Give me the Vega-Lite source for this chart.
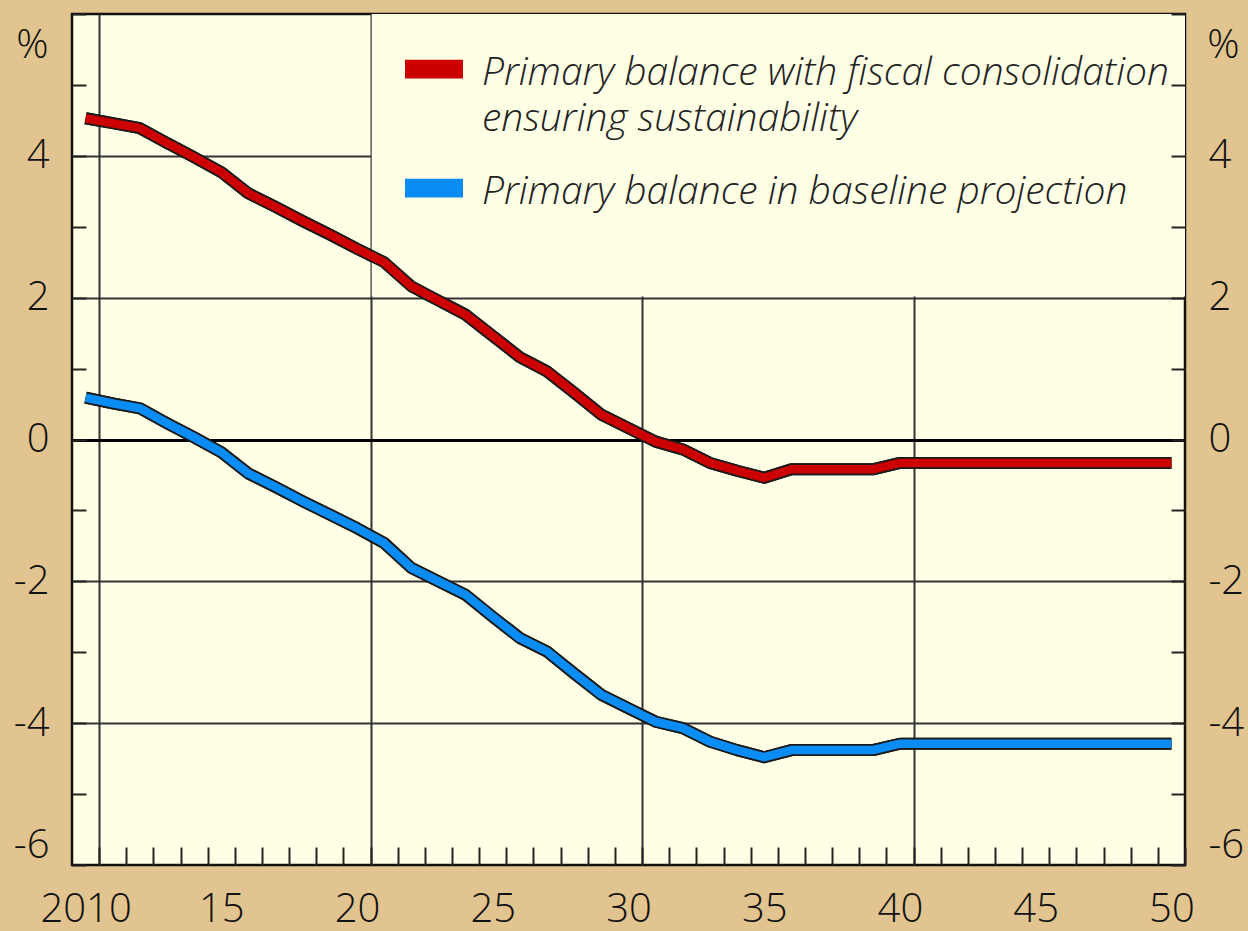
{
  "$schema": "https://vega.github.io/schema/vega-lite/v6.json",
  "width": 1113,
  "height": 851,
  "autosize": "none",
  "padding": {"left": 72, "top": 14, "right": 63, "bottom": 66},
  "background": "#E1C48F",
  "config": {
    "view": {"fill": "#FFFFE6", "stroke": "#111111", "strokeWidth": 2.5},
    "axis": {
      "labelFont": "Open Sans", "labelFontSize": 40, "labelFontWeight": 300, "labelColor": "#111111",
      "titleFont": "Open Sans", "titleFontSize": 40, "titleFontWeight": 300, "titleColor": "#111111",
      "domain": false, "tickColor": "#222222", "tickWidth": 2
    }
  },
  "data": {"values": [
    {"year": 2010, "value": 4.53, "series": "red"},
    {"year": 2011, "value": 4.46, "series": "red"},
    {"year": 2012, "value": 4.39, "series": "red"},
    {"year": 2013, "value": 4.18, "series": "red"},
    {"year": 2014, "value": 3.98, "series": "red"},
    {"year": 2015, "value": 3.77, "series": "red"},
    {"year": 2016, "value": 3.47, "series": "red"},
    {"year": 2017, "value": 3.28, "series": "red"},
    {"year": 2018, "value": 3.08, "series": "red"},
    {"year": 2019, "value": 2.89, "series": "red"},
    {"year": 2020, "value": 2.69, "series": "red"},
    {"year": 2021, "value": 2.50, "series": "red"},
    {"year": 2022, "value": 2.16, "series": "red"},
    {"year": 2023, "value": 1.96, "series": "red"},
    {"year": 2024, "value": 1.76, "series": "red"},
    {"year": 2025, "value": 1.46, "series": "red"},
    {"year": 2026, "value": 1.16, "series": "red"},
    {"year": 2027, "value": 0.96, "series": "red"},
    {"year": 2028, "value": 0.66, "series": "red"},
    {"year": 2029, "value": 0.35, "series": "red"},
    {"year": 2030, "value": 0.16, "series": "red"},
    {"year": 2031, "value": -0.03, "series": "red"},
    {"year": 2032, "value": -0.14, "series": "red"},
    {"year": 2033, "value": -0.33, "series": "red"},
    {"year": 2034, "value": -0.44, "series": "red"},
    {"year": 2035, "value": -0.54, "series": "red"},
    {"year": 2036, "value": -0.42, "series": "red"},
    {"year": 2037, "value": -0.42, "series": "red"},
    {"year": 2038, "value": -0.42, "series": "red"},
    {"year": 2039, "value": -0.42, "series": "red"},
    {"year": 2040, "value": -0.33, "series": "red"},
    {"year": 2041, "value": -0.33, "series": "red"},
    {"year": 2042, "value": -0.33, "series": "red"},
    {"year": 2043, "value": -0.33, "series": "red"},
    {"year": 2044, "value": -0.33, "series": "red"},
    {"year": 2045, "value": -0.33, "series": "red"},
    {"year": 2046, "value": -0.33, "series": "red"},
    {"year": 2047, "value": -0.33, "series": "red"},
    {"year": 2048, "value": -0.33, "series": "red"},
    {"year": 2049, "value": -0.33, "series": "red"},
    {"year": 2050, "value": -0.33, "series": "red"},
    {"year": 2010, "value": 0.59, "series": "blue"},
    {"year": 2011, "value": 0.51, "series": "blue"},
    {"year": 2012, "value": 0.44, "series": "blue"},
    {"year": 2013, "value": 0.23, "series": "blue"},
    {"year": 2014, "value": 0.03, "series": "blue"},
    {"year": 2015, "value": -0.18, "series": "blue"},
    {"year": 2016, "value": -0.48, "series": "blue"},
    {"year": 2017, "value": -0.67, "series": "blue"},
    {"year": 2018, "value": -0.87, "series": "blue"},
    {"year": 2019, "value": -1.06, "series": "blue"},
    {"year": 2020, "value": -1.25, "series": "blue"},
    {"year": 2021, "value": -1.46, "series": "blue"},
    {"year": 2022, "value": -1.81, "series": "blue"},
    {"year": 2023, "value": -2.00, "series": "blue"},
    {"year": 2024, "value": -2.19, "series": "blue"},
    {"year": 2025, "value": -2.50, "series": "blue"},
    {"year": 2026, "value": -2.80, "series": "blue"},
    {"year": 2027, "value": -2.99, "series": "blue"},
    {"year": 2028, "value": -3.30, "series": "blue"},
    {"year": 2029, "value": -3.60, "series": "blue"},
    {"year": 2030, "value": -3.79, "series": "blue"},
    {"year": 2031, "value": -3.98, "series": "blue"},
    {"year": 2032, "value": -4.07, "series": "blue"},
    {"year": 2033, "value": -4.26, "series": "blue"},
    {"year": 2034, "value": -4.38, "series": "blue"},
    {"year": 2035, "value": -4.48, "series": "blue"},
    {"year": 2036, "value": -4.38, "series": "blue"},
    {"year": 2037, "value": -4.38, "series": "blue"},
    {"year": 2038, "value": -4.38, "series": "blue"},
    {"year": 2039, "value": -4.38, "series": "blue"},
    {"year": 2040, "value": -4.29, "series": "blue"},
    {"year": 2041, "value": -4.29, "series": "blue"},
    {"year": 2042, "value": -4.29, "series": "blue"},
    {"year": 2043, "value": -4.29, "series": "blue"},
    {"year": 2044, "value": -4.29, "series": "blue"},
    {"year": 2045, "value": -4.29, "series": "blue"},
    {"year": 2046, "value": -4.29, "series": "blue"},
    {"year": 2047, "value": -4.29, "series": "blue"},
    {"year": 2048, "value": -4.29, "series": "blue"},
    {"year": 2049, "value": -4.29, "series": "blue"},
    {"year": 2050, "value": -4.29, "series": "blue"}
  ]},
  "resolve": {"axis": {"y": "independent"}},
  "layer": [
    {
      "mark": {"type": "line", "color": "#1A1A1A", "strokeWidth": 12, "strokeCap": "butt", "strokeJoin": "round"},
      "encoding": {
        "x": {
          "field": "year", "type": "quantitative",
          "scale": {"domain": [2009.5, 2050.5], "nice": false, "zero": false},
          "axis": {
            "title": null,
            "values": [2010.5, 2011.5, 2012.5, 2013.5, 2014.5, 2015.5, 2016.5, 2017.5, 2018.5, 2019.5, 2020.5, 2021.5, 2022.5, 2023.5, 2024.5, 2025.5, 2026.5, 2027.5, 2028.5, 2029.5, 2030.5, 2031.5, 2032.5, 2033.5, 2034.5, 2035.5, 2036.5, 2037.5, 2038.5, 2039.5, 2040.5, 2041.5, 2042.5, 2043.5, 2044.5, 2045.5, 2046.5, 2047.5, 2048.5, 2049.5, 2050.5],
            "tickCount": 200,
            "labelExpr": "(datum.value - 0.5) % 5 === 0 ? ((datum.value - 0.5) === 2010 ? '2010' : substring(toString(datum.value - 0.5), 2)) : ''",
            "labelOffset": -13.6,
            "labelFlush": false,
            "labelOverlap": false,
            "labelPadding": 42,
            "tickSize": -18,
            "grid": true,
            "gridColor": "#333333",
            "gridWidth": 2,
            "gridOpacity": {"expr": "(datum.value - 0.5) % 10 === 0 && datum.value < 2050 ? 1 : 0"}
          }
        },
        "y": {
          "field": "value", "type": "quantitative",
          "scale": {"domain": [-6, 6], "nice": false, "zero": false},
          "axis": {
            "orient": "left",
            "title": "%", "titleAngle": 0, "titleX": -40, "titleY": 31, "titleAlign": "center", "titleBaseline": "middle",
            "values": [-6, -5, -4, -3, -2, -1, 0, 1, 2, 3, 4, 5, 6],
            "tickCount": 100,
            "labelExpr": "datum.value % 2 === 0 && datum.value < 6 ? toString(datum.value) : ''",
            "labelOverlap": false,
            "labelFlush": true,
            "labelPadding": 37,
            "tickSize": -14,
            "grid": true,
            "gridColor": {"expr": "datum.value === 0 ? '#000000' : '#333333'"},
            "gridWidth": {"expr": "datum.value === 0 ? 3 : 2"},
            "gridOpacity": {"expr": "datum.value % 2 === 0 && abs(datum.value) < 6 ? 1 : 0"}
          }
        },
        "detail": {"field": "series"}
      }
    },
    {
      "data": {"values": [{}]},
      "mark": {"type": "rect", "fill": "#FFFFE6"},
      "encoding": {
        "x": {"datum": 2020.54, "type": "quantitative"},
        "x2": {"datum": 2050.5},
        "y": {"datum": 2.016, "type": "quantitative", "axis": null},
        "y2": {"datum": 6}
      }
    },
    {
      "mark": {"type": "line", "color": "#1A1A1A", "strokeWidth": 12, "strokeCap": "butt", "strokeJoin": "round"},
      "encoding": {
        "x": {"field": "year", "type": "quantitative"},
        "y": {"field": "value", "type": "quantitative", "axis": null},
        "detail": {"field": "series"}
      }
    },
    {
      "mark": {"type": "line", "strokeWidth": 8.5, "strokeCap": "butt", "strokeJoin": "round"},
      "encoding": {
        "x": {"field": "year", "type": "quantitative"},
        "y": {
          "field": "value", "type": "quantitative",
          "axis": {
            "orient": "right", "zindex": 1,
            "title": "%", "titleAngle": 0, "titleX": 38, "titleY": 31, "titleAlign": "center", "titleBaseline": "middle",
            "values": [-6, -5, -4, -3, -2, -1, 0, 1, 2, 3, 4, 5, 6],
            "tickCount": 100,
            "labelExpr": "datum.value % 2 === 0 && datum.value < 6 ? toString(datum.value) : ''",
            "labelOverlap": false,
            "labelFlush": true,
            "labelPadding": 37,
            "tickSize": -14,
            "grid": false
          }
        },
        "color": {
          "field": "series", "type": "nominal",
          "scale": {"domain": ["red", "blue"], "range": ["#CC0000", "#0A8CF5"]},
          "legend": {
            "title": null,
            "orient": "none",
            "legendX": 333,
            "legendY": 42,
            "direction": "vertical",
            "padding": 0,
            "rowPadding": 34,
            "symbolSize": 3136,
            "symbolType": "M-1,-0.87H1V-0.27H-1Z",
            "symbolStrokeColor": "#222222",
            "symbolStrokeWidth": 2,
            "labelFont": "Open Sans",
            "labelFontStyle": "italic",
            "labelFontWeight": 300,
            "labelFontSize": 39,
            "labelColor": "#222222",
            "labelBaseline": "alphabetic",
            "labelOffset": 19,
            "labelLimit": 2000,
            "labelExpr": "datum.value === 'red' ? ['Primary balance with fiscal consolidation', 'ensuring sustainability'] : 'Primary balance in baseline projection'",
            "encode": {
              "symbols": {"update": {
                "fill": {"scale": "color", "field": "value"},
                "stroke": {"value": "#222222"},
                "strokeWidth": {"value": 2},
                "opacity": {"value": 1}
              }},
              "labels": {"update": {"lineHeight": {"value": 46}}}
            }
          }
        }
      }
    }
  ]
}
